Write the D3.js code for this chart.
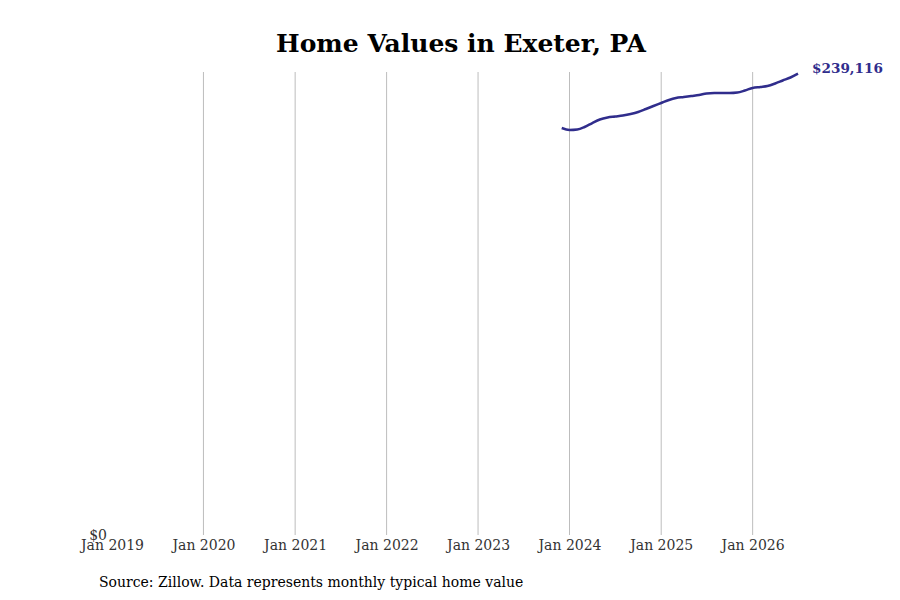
<!DOCTYPE html>
<html>
<head>
<meta charset="utf-8">
<script src="https://cdn.jsdelivr.net/npm/d3@7"></script>
<style>
  body { margin: 0; background: #fff; }
  svg { display: block; font-family: "DejaVu Serif", serif; }
</style>
</head>
<body>
<svg id="chart" width="900" height="600"></svg>
<script>
// monthly typical home value (Zillow), Exeter PA
const months = [
  "2023-12", "2024-01", "2024-02", "2024-03", "2024-04", "2024-05", "2024-06",
  "2024-07", "2024-08", "2024-09", "2024-10", "2024-11", "2024-12", "2025-01",
  "2025-02", "2025-03", "2025-04", "2025-05", "2025-06", "2025-07", "2025-08",
  "2025-09", "2025-10", "2025-11", "2025-12", "2026-01", "2026-02", "2026-03",
  "2026-04", "2026-05", "2026-06", "2026-07"
];
const values = [
  210970, 209940, 210200, 211490, 213560, 215380, 216420,
  216930, 217450, 218230, 219270, 220820, 222380, 223930,
  225490, 226520, 227040, 227560, 228080, 228860, 229110,
  229120, 229110, 229370, 230410, 231710, 232230, 232740,
  234040, 235600, 237150, 239116
];
const tickYears = ["2019", "2020", "2021", "2022", "2023", "2024", "2025", "2026"];
const yTicks = [0];

const parseMonth = d3.timeParse("%Y-%m");
const data = months.map((m, i) => ({ date: parseMonth(m), value: values[i] }));

const svg = d3.select("#chart");
const plotLeft = 112, plotRight = 798, plotTop = 72, plotBottom = 535;

const x = d3.scaleTime()
  .domain([new Date(2019, 0, 1), new Date(2026, 6, 1)])
  .range([plotLeft, plotRight]);
const y = d3.scaleLinear().domain([0, 240000]).range([plotBottom, plotTop]);

const tickDates = tickYears.map((yr) => new Date(+yr, 0, 1));

// vertical gridlines (none at the first tick)
svg.append("g")
  .selectAll("line")
  .data(tickDates.slice(1))
  .join("line")
  .attr("x1", (d) => x(d)).attr("x2", (d) => x(d))
  .attr("y1", plotTop).attr("y2", plotBottom)
  .attr("stroke", "#bdbdbd")
  .attr("stroke-width", 1);

// x axis
const xAxis = svg.append("g")
  .attr("transform", `translate(0,${plotBottom})`)
  .call(d3.axisBottom(x).tickValues(tickDates).tickFormat(d3.timeFormat("Jan %Y")).tickSize(0).tickPadding(5));
xAxis.select(".domain").remove();
xAxis.selectAll("text")
  .attr("font-family", "DejaVu Serif, serif")
  .attr("font-size", 14)
  .attr("fill", "#333");

// y axis
const yAxis = svg.append("g")
  .attr("transform", `translate(${plotLeft},0)`)
  .call(d3.axisLeft(y).tickValues(yTicks).tickFormat((d) => "$" + d3.format(",")(d)).tickSize(0).tickPadding(5));
yAxis.select(".domain").remove();
yAxis.selectAll("text")
  .attr("font-family", "DejaVu Serif, serif")
  .attr("font-size", 14)
  .attr("fill", "#333");

// line
const line = d3.line()
  .x((d) => x(d.date))
  .y((d) => y(d.value))
  .curve(d3.curveMonotoneX);

svg.append("path")
  .datum(data)
  .attr("d", line)
  .attr("fill", "none")
  .attr("stroke", "#302d8c")
  .attr("stroke-width", 2.5);

// end label
const last = data[data.length - 1];
svg.append("text")
  .attr("x", x(last.date) + 14)
  .attr("y", y(last.value) - 4)
  .attr("dominant-baseline", "middle")
  .attr("font-size", 13.6)
  .attr("font-weight", "bold")
  .attr("fill", "#302d8c")
  .text("$" + d3.format(",")(last.value));

// title
svg.append("text")
  .attr("x", 461)
  .attr("y", 52)
  .attr("text-anchor", "middle")
  .attr("font-size", 25)
  .attr("font-weight", "bold")
  .attr("fill", "#000")
  .text("Home Values in Exeter, PA");

// source
svg.append("text")
  .attr("x", 99)
  .attr("y", 587)
  .attr("font-size", 14)
  .attr("fill", "#000")
  .text("Source: Zillow. Data represents monthly typical home value");
</script>
</body>
</html>
